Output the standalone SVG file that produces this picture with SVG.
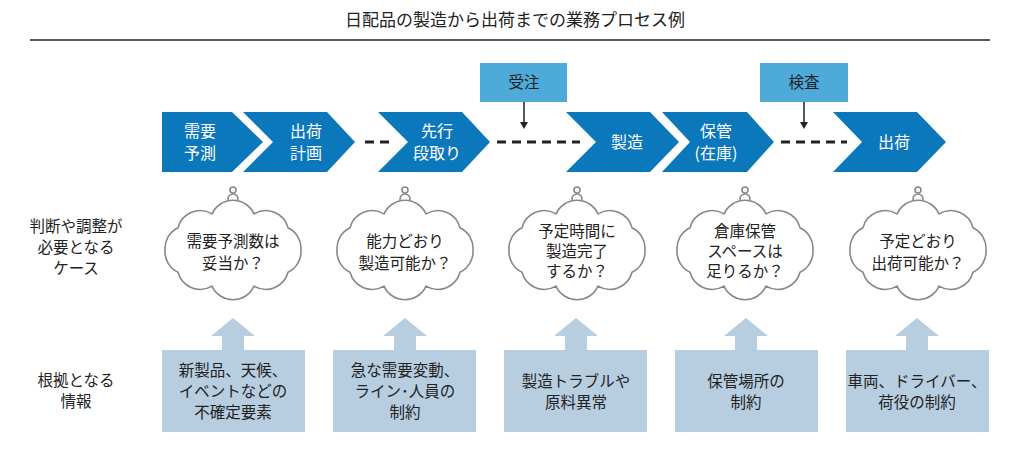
<svg xmlns="http://www.w3.org/2000/svg" width="1030" height="470" viewBox="0 0 1030 470">
<style>
text{font-family:"Noto Sans CJK JP","Noto Sans",sans-serif;font-size:15.5px;text-anchor:middle;fill:#222}
.chev{fill:#0b78bc}.ct{fill:#fff;font-size:16px}
.top{fill:#4eaad8}
.cloud{fill:#fff;stroke:#888;stroke-width:1.6}
.info{fill:#b7cde0}
.dash{stroke:#222;stroke-width:3;stroke-dasharray:9,6}
.arr{stroke:#222;stroke-width:1.5}
</style>
<defs>
<path id="cl" d="M68,0 A23,23 0 0,1 55,22.3 A23,23 0 0,1 21,36.1 A23,23 0 0,1 -21,36.1 A23,23 0 0,1 -55,22.3 A23,23 0 0,1 -68,0 A23,23 0 0,1 -55,-22.3 A23,23 0 0,1 -21,-36.1 A23,23 0 0,1 21,-36.1 A23,23 0 0,1 55,-22.3 A23,23 0 0,1 68,0z"/>
<g id="bub"><circle cx="0" cy="-60" r="3" class="cloud"/><circle cx="0" cy="-51" r="5" class="cloud"/></g>
<path id="up" d="M0,0 L22,18 L11,18 L11,32 L-11,32 L-11,18 L-22,18z"/>
</defs>
<text x="515" y="26" style="font-size:17px">日配品の製造から出荷までの業務プロセス例</text>
<line x1="30" y1="40" x2="990" y2="40" stroke="#222" stroke-width="1.5"/>
<g id="connectors">
<line class="dash" x1="365" y1="142" x2="392" y2="142"/>
<line class="dash" x1="497" y1="142" x2="580" y2="142"/>
<line class="dash" x1="781" y1="142" x2="847" y2="142"/>
<line class="arr" x1="524" y1="102" x2="524" y2="122"/><path d="M520,122 H528 L524,129z" fill="#222"/>
<line class="arr" x1="804" y1="102" x2="804" y2="122"/><path d="M800,122 H808 L804,129z" fill="#222"/>
</g>
<g id="n1"><path class="chev" d="M162,112 H232 L263,142 L232,172 H162z"/><text class="ct" x="200" y="137">需要</text><text class="ct" x="200" y="159">予測</text></g>
<g id="n2"><path class="chev" d="M243,112 H327 L355,142 L327,172 H243 L273,142z"/><text class="ct" x="306" y="137">出荷</text><text class="ct" x="306" y="159">計画</text></g>
<g id="n3"><path class="chev" d="M378,112 H462 L490,142 L462,172 H378 L408,142z"/><text class="ct" x="437" y="137">先行</text><text class="ct" x="437" y="159">段取り</text></g>
<g id="n4"><path class="chev" d="M566,112 H650 L679,142 L650,172 H566 L596,142z"/><text class="ct" x="627" y="148">製造</text></g>
<g id="n5"><path class="chev" d="M662,112 H747 L774,142 L747,172 H662 L690,142z"/><text class="ct" x="716" y="137">保管</text><text class="ct" x="716" y="159">(在庫)</text></g>
<g id="n6"><path class="chev" d="M833,112 H917 L946,142 L917,172 H833 L862,142z"/><text class="ct" x="894" y="148">出荷</text></g>
<g id="b1"><rect class="top" x="480" y="63" width="87" height="39"/><text x="524" y="88">受注</text></g>
<g id="b2"><rect class="top" x="760" y="63" width="88" height="39"/><text x="804" y="88">検査</text></g>
<text x="76" y="232">判断や調整が</text><text x="76" y="253">必要となる</text><text x="76" y="274">ケース</text>
<text x="76" y="386">根拠となる</text><text x="76" y="407">情報</text>
<g id="c1" transform="translate(233,250)"><use href="#bub"/><use href="#cl" class="cloud"/><text x="0" y="-3">需要予測数は</text><text x="0" y="19">妥当か？</text></g>
<g id="c2" transform="translate(405,250)"><use href="#bub"/><use href="#cl" class="cloud"/><text x="0" y="-3">能力どおり</text><text x="0" y="19">製造可能か？</text></g>
<g id="c3" transform="translate(577,250)"><use href="#bub"/><use href="#cl" class="cloud"/><text x="0" y="-13">予定時間に</text><text x="0" y="7">製造完了</text><text x="0" y="27">するか？</text></g>
<g id="c4" transform="translate(745,250)"><use href="#bub"/><use href="#cl" class="cloud"/><text x="0" y="-13">倉庫保管</text><text x="0" y="7">スペースは</text><text x="0" y="27">足りるか？</text></g>
<g id="c5" transform="translate(918,250)"><use href="#bub"/><use href="#cl" class="cloud"/><text x="0" y="-3">予定どおり</text><text x="0" y="19">出荷可能か？</text></g>
<g id="i1"><use href="#up" class="info" x="233" y="318"/><rect class="info" x="162" y="350" width="143" height="82"/><text x="233" y="376">新製品、天候、</text><text x="233" y="397">イベントなどの</text><text x="233" y="418">不確定要素</text></g>
<g id="i2"><use href="#up" class="info" x="405" y="318"/><rect class="info" x="333" y="350" width="143" height="82"/><text x="405" y="376">急な需要変動、</text><text x="405" y="397">ライン･人員の</text><text x="405" y="418">制約</text></g>
<g id="i3"><use href="#up" class="info" x="576" y="318"/><rect class="info" x="504" y="350" width="143" height="82"/><text x="576" y="387">製造トラブルや</text><text x="576" y="408">原料異常</text></g>
<g id="i4"><use href="#up" class="info" x="746" y="318"/><rect class="info" x="675" y="350" width="143" height="82"/><text x="746" y="387">保管場所の</text><text x="746" y="408">制約</text></g>
<g id="i5"><use href="#up" class="info" x="917" y="318"/><rect class="info" x="846" y="350" width="143" height="82"/><text x="917" y="387">車両、ドライバー、</text><text x="917" y="408">荷役の制約</text></g>
</svg>
